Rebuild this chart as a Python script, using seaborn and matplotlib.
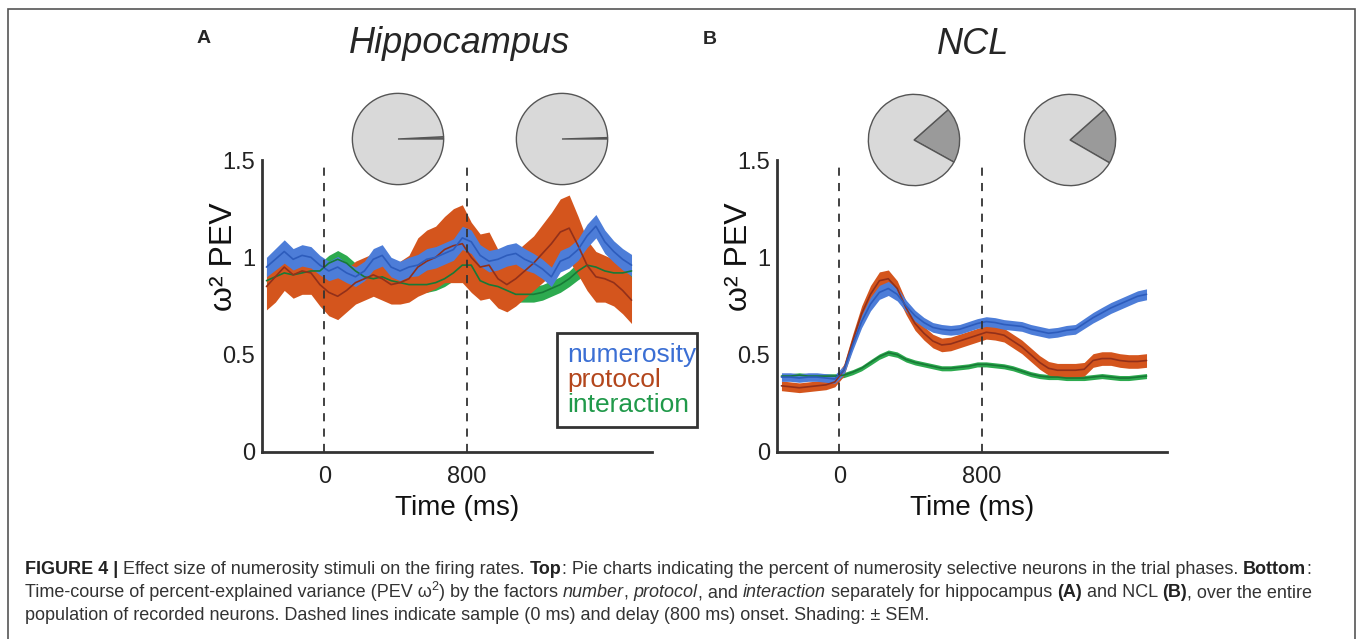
import matplotlib
matplotlib.use("Agg")
import matplotlib.pyplot as plt
from matplotlib.patches import Rectangle
import pandas as pd
import seaborn as sns

# sampling grid of the PEV curves (ms, relative to sample onset)
time_ms = list(range(-325, 1726, 50))

# Hippocampus (A): mean and SEM of omega^2 PEV
hip_numerosity = [0.95, 0.99, 1.03, 0.99, 1.01, 1.00, 0.96,
                  0.93, 0.95, 0.92, 0.90, 0.93, 0.99, 1.01, 0.95, 0.93, 0.95,
                  0.96, 0.99, 1.00, 1.02, 1.04, 1.10, 1.08, 1.01, 0.98, 0.99,
                  1.01, 1.02, 0.99, 0.97, 0.94, 0.90, 0.98, 1.00, 1.04, 1.11,
                  1.16, 1.08, 1.03, 0.99, 0.96]
hip_numerosity_sem = [0.05, 0.055, 0.06, 0.055, 0.055, 0.055, 0.05,
                      0.05, 0.055, 0.05, 0.05, 0.05, 0.055, 0.055, 0.05, 0.05,
                      0.05, 0.055, 0.055, 0.055, 0.055, 0.055, 0.06, 0.06,
                      0.055, 0.055, 0.055, 0.055, 0.055, 0.055, 0.05, 0.05,
                      0.05, 0.055, 0.055, 0.055, 0.06, 0.06, 0.06, 0.055,
                      0.055, 0.055]
hip_protocol = [0.85, 0.90, 0.95, 0.91, 0.93, 0.92, 0.86,
                0.82, 0.80, 0.83, 0.87, 0.89, 0.91, 0.89, 0.86, 0.87, 0.89,
                0.95, 0.98, 1.00, 1.04, 1.06, 1.07, 1.00, 0.95, 0.96, 0.89,
                0.86, 0.89, 0.93, 0.97, 1.02, 1.07, 1.13, 1.15, 1.06, 0.96,
                0.90, 0.89, 0.87, 0.83, 0.78]
hip_protocol_sem = [0.12, 0.13, 0.12, 0.12, 0.12, 0.11, 0.11,
                    0.12, 0.12, 0.11, 0.11, 0.11, 0.11, 0.11, 0.10, 0.11, 0.12,
                    0.15, 0.16, 0.16, 0.17, 0.19, 0.20, 0.18, 0.17, 0.17, 0.15,
                    0.14, 0.14, 0.14, 0.14, 0.15, 0.16, 0.17, 0.17, 0.15, 0.13,
                    0.13, 0.12, 0.12, 0.12, 0.12]
hip_interaction = [0.88, 0.90, 0.92, 0.91, 0.92, 0.93, 0.93,
                   0.97, 0.99, 0.97, 0.93, 0.90, 0.89, 0.90, 0.88, 0.87, 0.86,
                   0.86, 0.86, 0.87, 0.89, 0.92, 0.96, 0.96, 0.88, 0.86, 0.85,
                   0.83, 0.81, 0.81, 0.81, 0.82, 0.84, 0.86, 0.89, 0.93, 0.96,
                   0.95, 0.93, 0.92, 0.92, 0.93]
hip_interaction_sem = [0.04, 0.04, 0.04, 0.04, 0.04, 0.04, 0.04,
                       0.04, 0.045, 0.04, 0.04, 0.04, 0.04, 0.04, 0.04, 0.04,
                       0.04, 0.04, 0.04, 0.04, 0.04, 0.04, 0.045, 0.045, 0.04,
                       0.04, 0.04, 0.04, 0.04, 0.04, 0.04, 0.04, 0.04, 0.04,
                       0.04, 0.045, 0.045, 0.04, 0.04, 0.04, 0.04, 0.04]

# NCL (B)
ncl_numerosity = [0.385, 0.385, 0.38, 0.385, 0.385, 0.38, 0.375,
                  0.42, 0.55, 0.67, 0.76, 0.82, 0.84, 0.81, 0.75, 0.70, 0.665,
                  0.64, 0.63, 0.625, 0.63, 0.645, 0.66, 0.67, 0.665, 0.655,
                  0.65, 0.645, 0.63, 0.62, 0.61, 0.615, 0.625, 0.63, 0.66,
                  0.69, 0.715, 0.74, 0.76, 0.78, 0.80, 0.81]
ncl_numerosity_sem = [0.022, 0.022, 0.022, 0.022, 0.022, 0.022, 0.022,
                      0.024, 0.028, 0.032, 0.035, 0.036, 0.036, 0.034, 0.03,
                      0.028, 0.026, 0.025, 0.025, 0.025, 0.025, 0.025, 0.025,
                      0.025, 0.025, 0.025, 0.025, 0.025, 0.025, 0.025, 0.025,
                      0.025, 0.025, 0.025, 0.026, 0.027, 0.028, 0.028, 0.028,
                      0.028, 0.028, 0.028]
ncl_protocol = [0.34, 0.335, 0.33, 0.335, 0.34, 0.345, 0.36,
                0.42, 0.57, 0.71, 0.81, 0.88, 0.89, 0.84, 0.74, 0.66, 0.61,
                0.57, 0.55, 0.555, 0.57, 0.585, 0.60, 0.615, 0.61, 0.60, 0.57,
                0.54, 0.50, 0.46, 0.43, 0.42, 0.42, 0.42, 0.425, 0.47, 0.48,
                0.48, 0.47, 0.465, 0.465, 0.47]
ncl_protocol_sem = [0.025, 0.025, 0.025, 0.025, 0.025, 0.025, 0.025,
                    0.03, 0.035, 0.04, 0.045, 0.045, 0.045, 0.04, 0.035, 0.035,
                    0.035, 0.035, 0.035, 0.035, 0.035, 0.035, 0.035, 0.035,
                    0.035, 0.035, 0.035, 0.035, 0.035, 0.035, 0.035, 0.035,
                    0.035, 0.035, 0.035, 0.035, 0.035, 0.035, 0.035, 0.035,
                    0.035, 0.035]
ncl_interaction = [0.39, 0.39, 0.395, 0.39, 0.39, 0.39, 0.39,
                   0.395, 0.41, 0.43, 0.46, 0.49, 0.51, 0.50, 0.475, 0.46,
                   0.45, 0.44, 0.43, 0.43, 0.435, 0.44, 0.45, 0.45, 0.445,
                   0.44, 0.43, 0.415, 0.40, 0.39, 0.385, 0.385, 0.38, 0.38,
                   0.38, 0.385, 0.39, 0.385, 0.38, 0.38, 0.385, 0.39]
ncl_interaction_sem = [0.012, 0.012, 0.012, 0.012, 0.012, 0.012, 0.012,
                       0.013, 0.013, 0.013, 0.014, 0.014, 0.014, 0.014, 0.013,
                       0.013, 0.013, 0.013, 0.013, 0.013, 0.013, 0.013, 0.013,
                       0.013, 0.013, 0.013, 0.013, 0.013, 0.013, 0.013, 0.013,
                       0.013, 0.013, 0.013, 0.013, 0.013, 0.013, 0.013, 0.013,
                       0.013, 0.013, 0.013]

# pie charts: percent of selective neurons (sample phase, delay phase)
hip_pie_selective = [0.8, 0.5]
ncl_pie_selective = [19.6, 19.9]

factors = ["interaction", "protocol", "numerosity"]  # drawing order
band_colors = {"numerosity": "#4d7dd8", "protocol": "#d4551d", "interaction": "#2daa4f"}
line_colors = {"numerosity": "#2d5cbc", "protocol": "#92301a", "interaction": "#177a36"}
text_colors = {"numerosity": "#3b6fd4", "protocol": "#b3461c", "interaction": "#20994a"}

hip_data = {"numerosity": (hip_numerosity, hip_numerosity_sem),
            "protocol": (hip_protocol, hip_protocol_sem),
            "interaction": (hip_interaction, hip_interaction_sem)}
ncl_data = {"numerosity": (ncl_numerosity, ncl_numerosity_sem),
            "protocol": (ncl_protocol, ncl_protocol_sem),
            "interaction": (ncl_interaction, ncl_interaction_sem)}

sns.set_style("white")
plt.rcParams["font.family"] = ["Liberation Sans", "DejaVu Sans"]

W, H = 1360, 639
fig = plt.figure(figsize=(W / 100, H / 100), dpi=100)


def fx(x):
    return x / W


def fy(y):
    return 1 - y / H


def pev_panel(left, data):
    ax = fig.add_axes([fx(left), fy(452), 390 / W, 292 / H])
    for f in factors:
        mean, sem = data[f]
        df = pd.DataFrame({"t": time_ms, "pev": mean, "err": sem})
        ax.fill_between(df["t"], df["pev"] - df["err"], df["pev"] + df["err"],
                        color=band_colors[f], lw=0)
        sns.lineplot(data=df, x="t", y="pev", color=line_colors[f], lw=1.2, ax=ax)
    for t0 in (0, 800):
        ax.axvline(t0, ymin=0, ymax=0.983, color="#333333", lw=1.3,
                   ls=(0, (4.5, 4)), zorder=5)
    ax.set_xlim(-350, 1840)
    ax.set_ylim(0, 1.5)
    ax.set_xticks([0, 800])
    ax.set_yticks([0, 0.5, 1, 1.5], ["0", "0.5", "1", "1.5"])
    sns.despine(ax=ax)
    for s in ("left", "bottom"):
        ax.spines[s].set_linewidth(2)
        ax.spines[s].set_color("#333333")
    ax.tick_params(direction="in", length=5, width=1.5, colors="#333333",
                   labelcolor="#222222", labelsize=17)
    ax.tick_params(axis="x", pad=10)
    ax.tick_params(axis="y", pad=5)
    ax.set_xlabel("Time (ms)", fontsize=20, color="#111111")
    ax.xaxis.set_label_coords(0.5, -0.147)
    ax.set_ylabel("ω² PEV", fontsize=23, color="#111111")
    ax.yaxis.set_label_coords(-0.058, 0.67)
    ax.set_facecolor("none")
    return ax


def pie(cx, cy, pct, start):
    r = 47
    pa = fig.add_axes([fx(cx - r), fy(cy + r), 2 * r / W, 2 * r / H])
    pa.pie([pct, 100 - pct], colors=["#9a9a9a", "#d9d9d9"], startangle=start,
           counterclock=True, wedgeprops=dict(edgecolor="#555555", linewidth=1.0))
    pa.set_xlim(-1.03, 1.03)
    pa.set_ylim(-1.03, 1.03)


ax_a = pev_panel(262, hip_data)
ax_b = pev_panel(777, ncl_data)

pie(398, 139, hip_pie_selective[0], 0)
pie(562, 139, hip_pie_selective[1], 0)
pie(914, 140, ncl_pie_selective[0], -29)
pie(1070, 140, ncl_pie_selective[1], -30)

# legend box of panel A
fig.add_artist(Rectangle((fx(557), fy(427)), 140 / W, 94 / H, transform=fig.transFigure,
                         fill=True, facecolor="white", edgecolor="#333333", lw=2))
for f, yb in zip(["numerosity", "protocol", "interaction"], [362, 387, 412]):
    fig.text(fx(567), fy(yb), f, fontsize=19, color=text_colors[f], va="baseline")

# titles and panel letters
fig.text(fx(460), fy(53), "Hippocampus", fontsize=26, style="italic", ha="center", va="baseline")
fig.text(fx(973), fy(54), "NCL", fontsize=26, style="italic", ha="center", va="baseline")
fig.text(fx(204), fy(43), "A", fontsize=14, weight="bold", ha="center", va="baseline")
fig.text(fx(710), fy(44), "B", fontsize=14, weight="bold", ha="center", va="baseline")

# frame (open at the bottom edge of the picture)
fig.add_artist(Rectangle((fx(8), fy(660)), 1347 / W, 651 / H, transform=fig.transFigure,
                         fill=False, edgecolor="#555555", lw=1.2))

renderer = fig.canvas.get_renderer()
cap_size = 13.0


def run_width(s, **kw):
    a = fig.text(0, 0, "|" + s + "|", **kw)
    b = fig.text(0, 0, "||", **kw)
    w = a.get_window_extent(renderer).width - b.get_window_extent(renderer).width
    a.remove()
    b.remove()
    return w


def rich_line(x, y, runs):
    for s, kind in runs:
        kw = dict(fontsize=cap_size, color="#333333")
        dy = 0
        if kind == "b":
            kw.update(weight="bold", color="#222222")
        elif kind == "i":
            kw.update(style="italic")
        elif kind == "sup":
            kw.update(fontsize=cap_size * 0.7)
            dy = 7
        fig.text(fx(x), fy(y - dy), s, va="baseline", **kw)
        x += run_width(s, **kw)


rich_line(25, 574, [("FIGURE 4 | ", "b"), ("Effect size of numerosity stimuli on the firing rates. ", "n"),
                    ("Top", "b"), (": Pie charts indicating the percent of numerosity selective neurons in the trial phases. ", "n"),
                    ("Bottom", "b"), (":", "n")])
rich_line(25, 597, [("Time-course of percent-explained variance (PEV ω", "n"), ("2", "sup"),
                    (") by the factors ", "n"), ("number", "i"), (", ", "n"), ("protocol", "i"),
                    (", and ", "n"), ("interaction", "i"), (" separately for hippocampus ", "n"),
                    ("(A)", "b"), (" and NCL ", "n"), ("(B)", "b"), (", over the entire", "n")])
rich_line(25, 620, [("population of recorded neurons. Dashed lines indicate sample (0 ms) and delay (800 ms) onset. Shading: ± SEM.", "n")])

fig.savefig("out.png", dpi=100)
